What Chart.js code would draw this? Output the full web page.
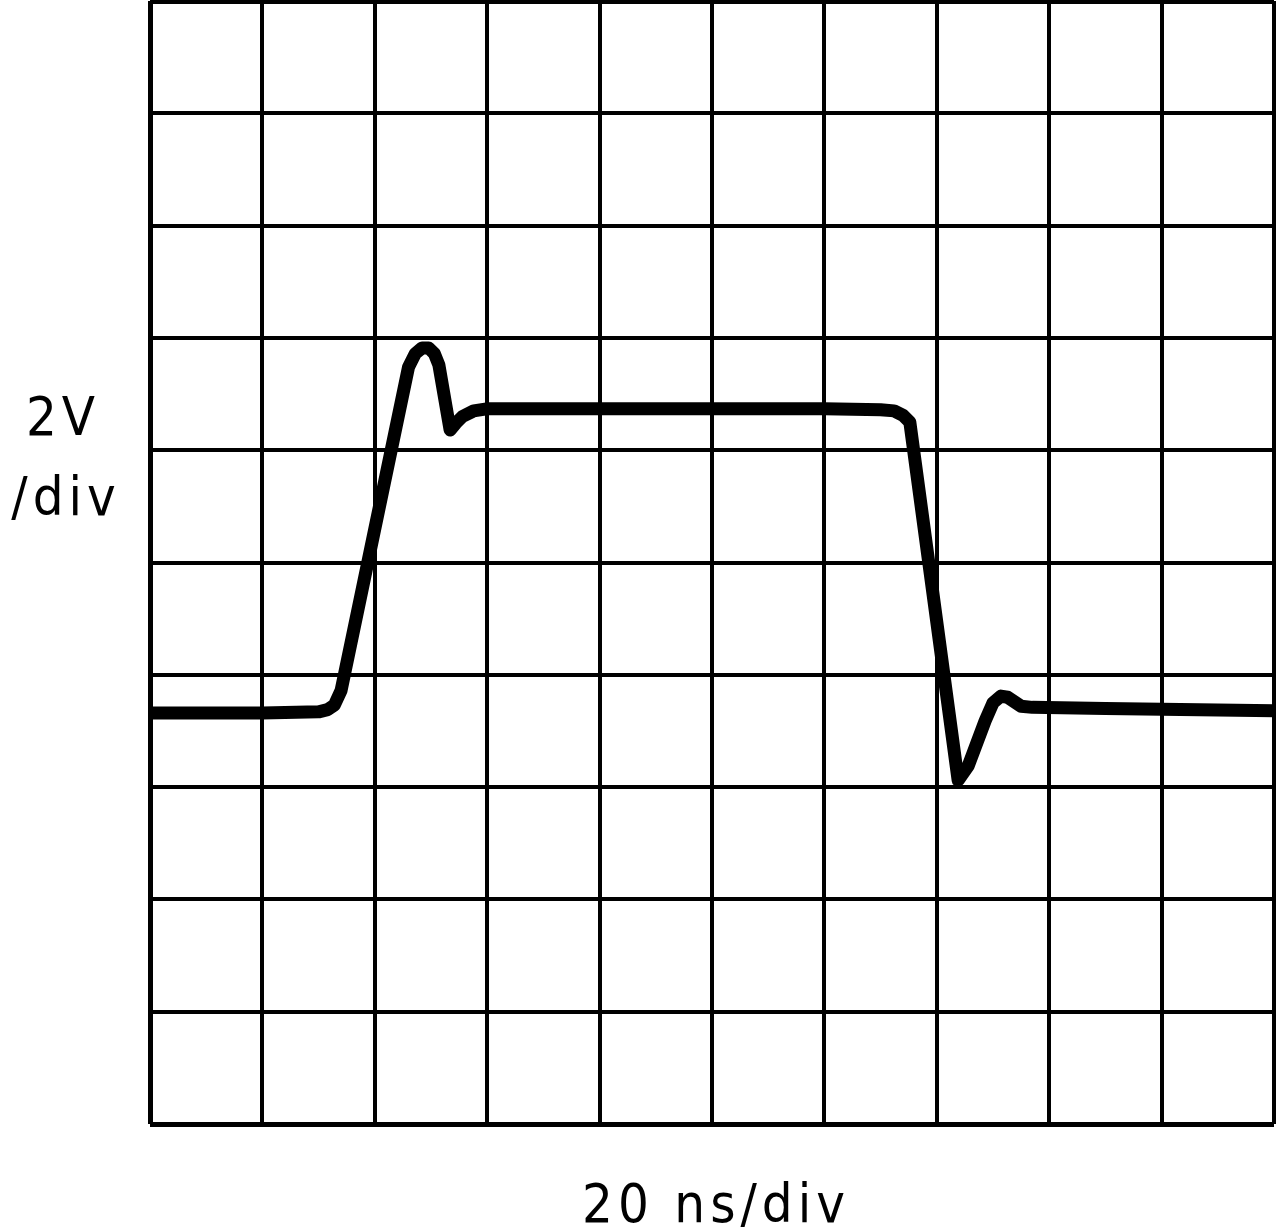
<!DOCTYPE html>
<html>
<head>
<meta charset="utf-8">
<script src="https://cdn.jsdelivr.net/npm/chart.js@4/dist/chart.umd.min.js"></script>
<style>
  html, body { margin: 0; padding: 0; background: #fff; }
  #wrap { width: 1276px; height: 1232px; }
</style>
</head>
<body>
<div id="wrap"><canvas id="scope" width="1276" height="1232"></canvas></div>
<script>
// time in divisions (20 ns/div), amplitude in divisions (2 V/div) from bottom
var timeDiv = [0, 1.0, 1.50, 1.58, 1.64, 1.70, 2.30, 2.36, 2.42, 2.48, 2.53, 2.57, 2.67, 2.72, 2.78, 2.88, 3.01, 4.0, 5.0, 6.0, 6.5, 6.62, 6.70, 6.76, 7.19, 7.28, 7.43, 7.50, 7.57, 7.63, 7.75, 7.85, 8.5, 10];
var voltDiv = [3.66, 3.66, 3.67, 3.69, 3.73, 3.86, 6.74, 6.86, 6.91, 6.91, 6.86, 6.76, 6.18, 6.24, 6.30, 6.35, 6.37, 6.37, 6.37, 6.37, 6.36, 6.35, 6.31, 6.25, 3.06, 3.19, 3.59, 3.75, 3.81, 3.80, 3.72, 3.71, 3.70, 3.68];
var yLabel = ['2V', '/div'];
var xLabel = '20 ns/div';

var points = timeDiv.map(function(t, i) { return { x: t, y: voltDiv[i] }; });

var edgeWidth = function(ctx) {
    var v = ctx.tick.value;
    return (v === 0 || v === 10) ? 5 : 4;
};

// draws the per-division captions
var captions = {
    id: 'captions',
    afterDraw: function(chart) {
        var c = chart.ctx;
        c.save();
        c.fillStyle = '#000';
        c.font = '54px "DejaVu Sans Condensed", "DejaVu Sans", sans-serif';
        c.letterSpacing = '5px';
        c.textAlign = 'center';
        c.textBaseline = 'alphabetic';
        c.fillText(yLabel[0], 63, 435);
        c.fillText(yLabel[1], 66, 515);
        c.fillText(xLabel, 716, 1222);
        c.restore();
    }
};

var ctx = document.getElementById('scope').getContext('2d');
var scopeChart = new Chart(ctx, {
    type: 'line',
    data: {
        datasets: [{
            label: 'Output',
            data: points,
            borderColor: '#000',
            borderWidth: 13,
            borderJoinStyle: 'round',
            borderCapStyle: 'butt',
            pointRadius: 0,
            tension: 0,
            fill: false
        }]
    },
    options: {
        responsive: false,
        animation: false,
        layout: { padding: { left: 150, right: 2, top: 1, bottom: 108 } },
        plugins: { legend: { display: false }, tooltip: { enabled: false } },
        scales: {
            x: {
                type: 'linear', min: 0, max: 10,
                ticks: { display: false, stepSize: 1 },
                grid: { color: '#000', lineWidth: edgeWidth, drawTicks: false },
                border: { display: false }
            },
            y: {
                type: 'linear', min: 0, max: 10,
                ticks: { display: false, stepSize: 1 },
                grid: { color: '#000', lineWidth: edgeWidth, drawTicks: false },
                border: { display: false }
            }
        }
    },
    plugins: [captions]
});
</script>
</body>
</html>
